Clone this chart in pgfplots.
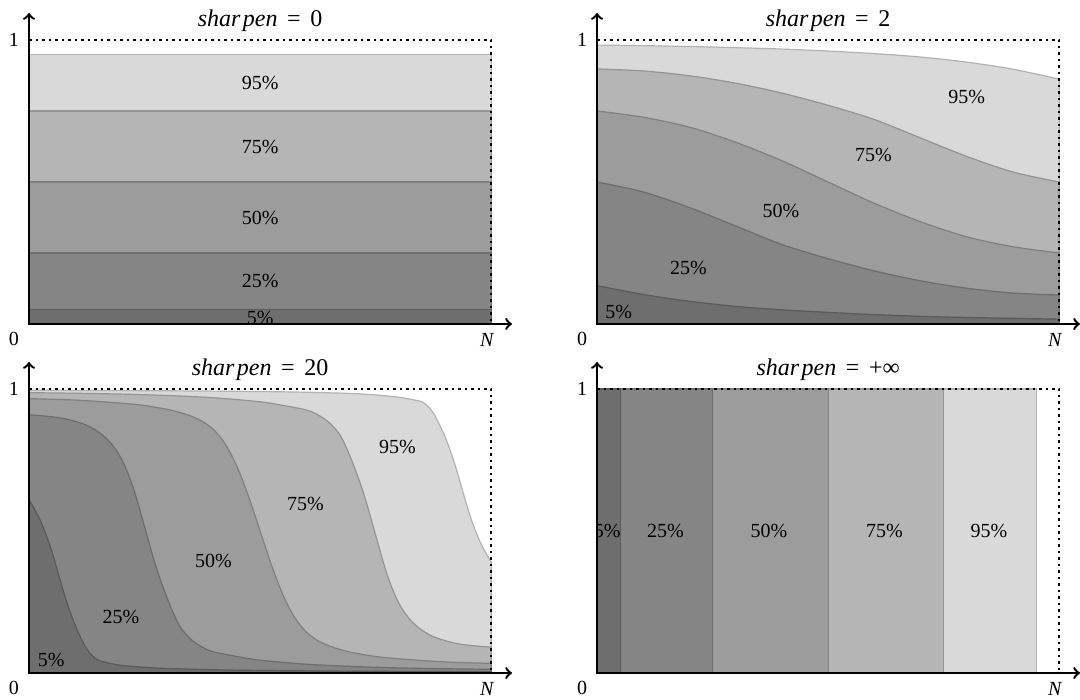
\documentclass[border=0pt]{standalone}
\usepackage{fontspec}
\setmainfont{Liberation Serif}
\usepackage{pgfplots}
\pgfplotsset{compat=1.18}

\definecolor{c5}{HTML}{6E6E6E}
\definecolor{c25}{HTML}{858585}
\definecolor{c50}{HTML}{9C9C9C}
\definecolor{c75}{HTML}{B5B5B5}
\definecolor{c95}{HTML}{D9D9D9}

\pgfplotsset{
  panel/.style={scale only axis, width=241.5pt, height=155.5pt,
    xmin=0, xmax=1.045, ymin=0, ymax=1.095, hide axis, clip=false,
    anchor=south west, font=\fontsize{10}{12}\selectfont},
  band/.style={fill=#1, draw=#1!82!black, line width=0.6pt},
}
\newcommand{\panelframe}{%
  \addplot[dotted, line width=1.25pt] coordinates {(0,1) (1,1) (1,0)};
  \draw[line width=1.2pt, <->] (axis cs:0,1.095) |- (axis cs:1.045,0);
  \node at (axis cs:0,0) [xshift=-7.5pt, yshift=-7.5pt] {0};
  \node at (axis cs:0,1) [xshift=-7.5pt] {1};
  \node at (axis cs:1,0) [xshift=-2pt, yshift=-8pt] {\textit{N}};
}
\newcommand{\sharpen}[1]{\textit{shar\kern0.1em pen}\hspace{0.4em}=\hspace{0.4em}#1}

\begin{document}
\begin{tikzpicture}

% ---------- sharpen = 0 ----------
\begin{axis}[panel, at={(0pt,0pt)}]
\addplot[band=c95] coordinates {(0,0.95) (1,0.95)} \closedcycle;
\addplot[band=c75] coordinates {(0,0.75) (1,0.75)} \closedcycle;
\addplot[band=c50] coordinates {(0,0.50) (1,0.50)} \closedcycle;
\addplot[band=c25] coordinates {(0,0.25) (1,0.25)} \closedcycle;
\addplot[band=c5]  coordinates {(0,0.05) (1,0.05)} \closedcycle;
\begin{scope}
\clip (axis cs:0,0) rectangle (axis cs:1,1);
\node at (axis cs:0.5,0.85) {95\%};
\node at (axis cs:0.5,0.625) {75\%};
\node at (axis cs:0.5,0.375) {50\%};
\node at (axis cs:0.5,0.15) {25\%};
\node at (axis cs:0.5,0.022) {5\%};
\end{scope}
\panelframe
\node[font=\fontsize{12}{14}\selectfont] at (axis cs:0.5,1.069) {\sharpen{0}};
\end{axis}

% ---------- sharpen = 2 ----------
\begin{axis}[panel, at={(284pt,0pt)}]
\addplot[band=c95, smooth] coordinates {(0,0.982) (0.1,0.980) (0.2,0.977) (0.3,0.973) (0.4,0.968) (0.5,0.961) (0.6,0.952) (0.7,0.940) (0.8,0.922) (0.9,0.897) (1,0.862)} \closedcycle;
\addplot[band=c75, smooth] coordinates {(0,0.898) (0.1,0.891) (0.2,0.874) (0.3,0.848) (0.4,0.813) (0.5,0.770) (0.6,0.720) (0.7,0.655) (0.8,0.590) (0.9,0.535) (1,0.500)} \closedcycle;
\addplot[band=c50, smooth] coordinates {(0,0.750) (0.1,0.728) (0.2,0.693) (0.3,0.640) (0.4,0.575) (0.5,0.500) (0.6,0.425) (0.7,0.360) (0.8,0.307) (0.9,0.272) (1,0.250)} \closedcycle;
\addplot[band=c25, smooth] coordinates {(0,0.500) (0.1,0.465) (0.2,0.410) (0.3,0.345) (0.4,0.280) (0.5,0.230) (0.6,0.187) (0.7,0.152) (0.8,0.126) (0.9,0.109) (1,0.102)} \closedcycle;
\addplot[band=c5, smooth] coordinates {(0,0.135) (0.1,0.104) (0.2,0.080) (0.3,0.062) (0.4,0.050) (0.5,0.041) (0.6,0.033) (0.7,0.027) (0.8,0.023) (0.9,0.020) (1,0.017)} \closedcycle;
\begin{scope}
\clip (axis cs:0,0) rectangle (axis cs:1,1);
\node at (axis cs:0.8,0.798) {95\%};
\node at (axis cs:0.598,0.596) {75\%};
\node at (axis cs:0.398,0.399) {50\%};
\node at (axis cs:0.198,0.196) {25\%};
\node at (axis cs:0.047,0.042) {5\%};
\end{scope}
\panelframe
\node[font=\fontsize{12}{14}\selectfont] at (axis cs:0.5,1.069) {\sharpen{2}};
\end{axis}

% ---------- sharpen = 20 ----------
\begin{axis}[panel, at={(0pt,-174.5pt)}]
\addplot[band=c95, smooth] coordinates {(0,0.9955) (0.3,0.9936) (0.5,0.991) (0.6,0.9885) (0.7,0.984) (0.75,0.979) (0.8,0.971) (0.825,0.964) (0.85,0.955) (0.8625,0.94) (0.875,0.915) (0.8875,0.876) (0.9,0.832) (0.9125,0.778) (0.925,0.715) (0.9375,0.645) (0.95,0.575) (0.9625,0.515) (0.975,0.465) (0.9875,0.425) (1,0.39)} \closedcycle;
\addplot[band=c75, smooth] coordinates {(0,0.987) (0.1,0.985) (0.2,0.982) (0.3,0.977) (0.4,0.969) (0.5,0.955) (0.55,0.942) (0.6,0.926) (0.625,0.909) (0.65,0.881) (0.675,0.832) (0.7,0.741) (0.725,0.627) (0.75,0.485) (0.775,0.345) (0.8,0.246) (0.825,0.187) (0.85,0.151) (0.875,0.128) (0.9,0.114) (0.925,0.104) (0.95,0.098) (0.975,0.094) (1,0.091)} \closedcycle;
\addplot[band=c50, smooth] coordinates {(0,0.966) (0.1,0.961) (0.2,0.950) (0.25,0.942) (0.3,0.928) (0.325,0.918) (0.35,0.905) (0.375,0.886) (0.4,0.856) (0.425,0.805) (0.45,0.727) (0.475,0.622) (0.5,0.500) (0.525,0.378) (0.55,0.273) (0.575,0.195) (0.6,0.144) (0.625,0.114) (0.65,0.095) (0.675,0.082) (0.7,0.072) (0.75,0.058) (0.8,0.050) (0.9,0.039) (1,0.034)} \closedcycle;
\addplot[band=c25, smooth] coordinates {(0,0.909) (0.025,0.906) (0.05,0.902) (0.075,0.896) (0.1,0.886) (0.125,0.872) (0.15,0.849) (0.175,0.813) (0.2,0.754) (0.225,0.655) (0.25,0.515) (0.275,0.373) (0.3,0.259) (0.325,0.168) (0.35,0.119) (0.375,0.091) (0.4,0.074) (0.45,0.058) (0.5,0.045) (0.6,0.031) (0.7,0.023) (0.8,0.018) (0.9,0.015) (1,0.013)} \closedcycle;
\addplot[band=c5, smooth] coordinates {(0,0.61) (0.0125,0.575) (0.025,0.535) (0.0375,0.485) (0.05,0.425) (0.0625,0.355) (0.075,0.285) (0.0875,0.222) (0.1,0.168) (0.1125,0.122) (0.125,0.085) (0.1375,0.06) (0.15,0.045) (0.175,0.034) (0.2,0.027) (0.25,0.020) (0.3,0.016) (0.4,0.0115) (0.5,0.009) (0.7,0.0064) (1,0.0045)} \closedcycle;
\begin{scope}
\clip (axis cs:0,0) rectangle (axis cs:1,1);
\node at (axis cs:0.797,0.796) {95\%};
\node at (axis cs:0.598,0.596) {75\%};
\node at (axis cs:0.399,0.396) {50\%};
\node at (axis cs:0.199,0.196) {25\%};
\node at (axis cs:0.048,0.045) {5\%};
\end{scope}
\panelframe
\node[font=\fontsize{12}{14}\selectfont] at (axis cs:0.5,1.069) {\sharpen{20}};
\end{axis}

% ---------- sharpen = +inf ----------
\begin{axis}[panel, at={(284pt,-174.5pt)}]
\addplot[band=c95] coordinates {(0,1) (0.95,1) (0.95,0)} \closedcycle;
\addplot[band=c75] coordinates {(0,1) (0.75,1) (0.75,0)} \closedcycle;
\addplot[band=c50] coordinates {(0,1) (0.50,1) (0.50,0)} \closedcycle;
\addplot[band=c25] coordinates {(0,1) (0.25,1) (0.25,0)} \closedcycle;
\addplot[band=c5]  coordinates {(0,1) (0.05,1) (0.05,0)} \closedcycle;
\begin{scope}
\clip (axis cs:0,0) rectangle (axis cs:1,1);
\node at (axis cs:0.022,0.5) {5\%};
\node at (axis cs:0.148,0.5) {25\%};
\node at (axis cs:0.372,0.5) {50\%};
\node at (axis cs:0.622,0.5) {75\%};
\node at (axis cs:0.848,0.5) {95\%};
\end{scope}
\panelframe
\node[font=\fontsize{12}{14}\selectfont] at (axis cs:0.5,1.069) {\sharpen{+∞}};
\end{axis}

\pgfresetboundingbox
\useasboundingbox (-14.5pt,-188pt) rectangle (525.5pt,162pt);
\end{tikzpicture}
\end{document}
